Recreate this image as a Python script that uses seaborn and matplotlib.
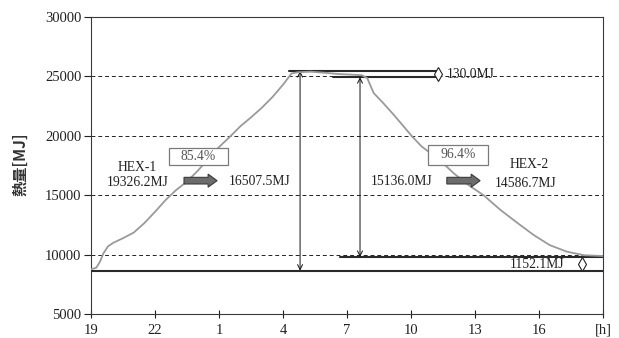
import matplotlib
matplotlib.use("Agg")
import matplotlib.pyplot as plt
from matplotlib.patches import FancyArrow, Rectangle
import pandas as pd
import seaborn as sns

# Stored heat over one day, hours counted from 19:00
hours = [0.00, 0.25, 0.42, 0.58, 0.80, 1.05, 1.50, 2.00, 2.50, 3.00, 3.50, 4.00,
         4.50, 5.00, 5.50, 6.00, 6.50, 7.00, 7.50, 8.00, 8.50, 9.00, 9.40,
         9.70, 10.30, 11.00, 11.60, 12.20, 12.70, 12.95, 13.25, 13.70, 14.20,
         14.65, 15.05, 15.50, 16.35, 17.00, 17.70, 18.40, 19.20, 20.00, 20.75,
         21.50, 22.30, 23.10, 24.00]
heat = [8760, 8900, 9400, 10100, 10700, 11000, 11380, 11850, 12650, 13600, 14600, 15450,
        16150, 17050, 18050, 19050, 19900, 20800, 21550, 22350, 23250, 24300, 25250,
        25350, 25400, 25300, 25200, 25150, 25100, 24850, 23600, 22750, 21750,
        20800, 19950, 19100, 17950, 16850, 15850, 15000, 13750, 12650, 11650,
        10800, 10250, 9950, 9880]

x_ticks = [0, 3, 6, 9, 12, 15, 18, 21, 24]
x_tick_labels = ["19", "22", "1", "4", "7", "10", "13", "16", "[h]"]
y_ticks = [5000, 10000, 15000, 20000, 25000, 30000]
grid_levels = [10000, 15000, 20000, 25000]

# Heat quantities written on the chart
hex1_in = 19326.2
hex1_out = 16507.5
hex2_in = 15136.0
hex2_out = 14586.7
top_gap = 130.0
bottom_gap = 1152.1

# Reference levels for the bracket lines
end_level = 9800
top_low = end_level + hex2_in
top_high = 25450
base_level = end_level - bottom_gap

sns.set_style("white")
plt.rcParams["font.family"] = ["Liberation Serif", "Noto Sans CJK JP"]
plt.rcParams["axes.unicode_minus"] = False

fig = plt.figure(figsize=(6.19, 3.38), dpi=100)
ax = fig.add_axes([91 / 619, 1 - 314 / 338, 512 / 619, 297 / 338])

df = pd.DataFrame({"hour": hours, "heat": heat})
sns.lineplot(data=df, x="hour", y="heat", ax=ax, color="#9a9a9a", lw=1.3, zorder=5)

ax.set_xlim(0, 24)
ax.set_ylim(5000, 30000)
ax.set_xticks(x_ticks)
ax.set_xticklabels(x_tick_labels)
ax.set_yticks(y_ticks)
ax.set_xlabel("")
ax.set_ylabel("")
ax.tick_params(axis="y", direction="out", length=5, width=0.8, pad=2,
               labelsize=10.5, colors="#222222", left=True)
ax.tick_params(axis="x", direction="inout", length=6, width=0.8, pad=4,
               labelsize=10.5, colors="#222222", bottom=True)
for s in ax.spines.values():
    s.set_color("#3a3a3a")
    s.set_linewidth(0.8)

for lv in grid_levels:
    ax.axhline(lv, color="#222222", lw=0.7, ls=(0, (4, 3)), zorder=1)

# Bracket lines
line_kw = dict(color="#2a2a2a", lw=1.5, zorder=3)
ax.plot([0, 24], [base_level, base_level], **line_kw)
ax.plot([11.67, 24], [end_level, end_level], **line_kw)
ax.plot([9.28, 16.22], [top_high, top_high], **line_kw)
ax.plot([11.35, 16.22], [top_low, top_low], **line_kw)

# Vertical spans
span_kw = dict(arrowstyle="<->", color="#111111", lw=0.7, shrinkA=0, shrinkB=0,
               mutation_scale=9)
ax.annotate("", xy=(9.8, base_level), xytext=(9.8, top_high), arrowprops=span_kw, zorder=4)
ax.annotate("", xy=(12.61, end_level), xytext=(12.61, top_low), arrowprops=span_kw, zorder=4)

# Small gap markers
for xm, lo, hi in [(16.28, top_low, top_high), (23.0, base_level, end_level)]:
    ax.plot([xm, xm], [lo, hi], color="#222222", lw=0.7, zorder=4)
    ax.plot([xm], [(lo + hi) / 2], marker="d", ms=7, mfc="white", mec="#222222",
            mew=0.8, zorder=5)

txt_kw = dict(fontsize=9.8, color="#222222", zorder=6)
ax.text(16.67, (top_low + top_high) / 2, f"{top_gap:.1f}MJ", ha="left", va="center", **txt_kw)
ax.text(22.2, (base_level + end_level) / 2 - 50, f"{bottom_gap:.1f}MJ", ha="right",
        va="center", **txt_kw)

# HEX-1
ax.text(2.18, 17293, "HEX-1", ha="center", va="center", **txt_kw)
ax.text(2.18, 16030, f"{hex1_in:.1f}MJ", ha="center", va="center", **txt_kw)
ax.text(6.45, 16150, f"{hex1_out:.1f}MJ", ha="left", va="center", **txt_kw)
# HEX-2
ax.text(20.53, 17546, "HEX-2", ha="center", va="center", **txt_kw)
ax.text(20.37, 16005, f"{hex2_out:.1f}MJ", ha="center", va="center", **txt_kw)
ax.text(14.56, 16140, f"{hex2_in:.1f}MJ", ha="center", va="center", **txt_kw)

# Efficiency boxes
for (x0, x1, y0, y1), val in [((3.66, 6.42, 17546, 18977), hex1_out / hex1_in),
                               ((15.80, 18.61, 17546, 19230), hex2_out / hex2_in)]:
    ax.add_patch(Rectangle((x0, y0), x1 - x0, y1 - y0, facecolor="white",
                           edgecolor="#7a7a7a", lw=0.9, zorder=7))
    ax.text((x0 + x1) / 2, (y0 + y1) / 2, f"{val * 100:.1f}%", ha="center", va="center",
            fontsize=9.8, color="#555555", zorder=8)

# Block arrows
for x0, x1, yc in [(4.36, 5.91, 16224), (16.68, 18.24, 16224)]:
    ax.add_patch(FancyArrow(x0, yc, x1 - x0, 0, width=560, head_width=1100,
                            head_length=0.42, length_includes_head=True,
                            facecolor="#6c6c6c", edgecolor="#3a3a3a", lw=0.8, zorder=8))

fig.text(20 / 619, 1 - 164 / 338, "熱量[MJ]", rotation=90, ha="center", va="center",
         fontsize=11, fontweight="bold", color="#333333",
         family=["Noto Sans CJK JP", "DejaVu Sans"])

fig.savefig("out.png", dpi=100)
